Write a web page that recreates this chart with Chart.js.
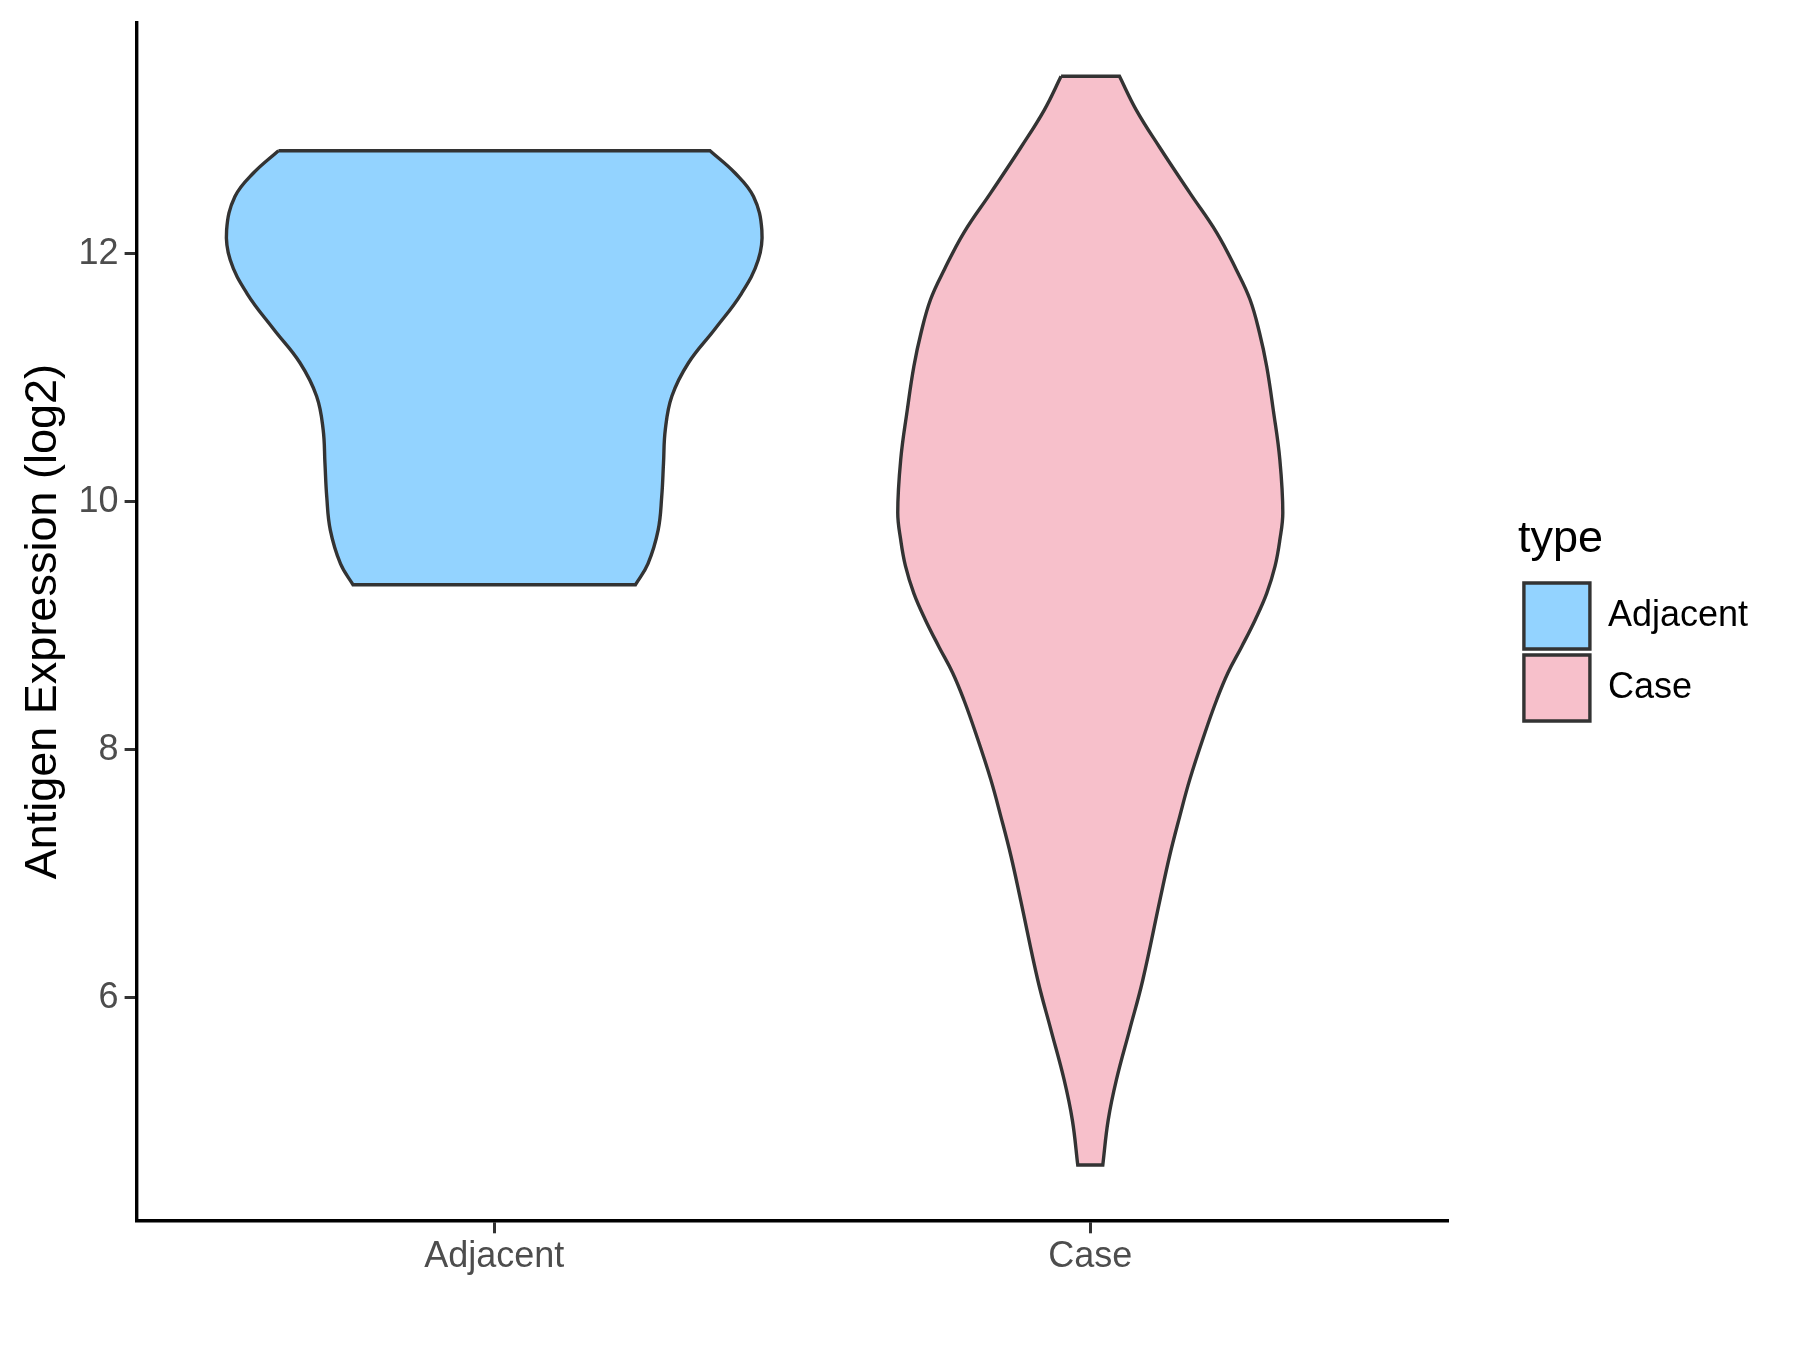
<!DOCTYPE html>
<html>
<head>
<meta charset="utf-8">
<script src="https://cdn.jsdelivr.net/npm/chart.js@4/dist/chart.umd.min.js"></script>
<style>
    html, body { margin: 0; padding: 0; background: #ffffff; }
    #wrap { width: 1800px; height: 1350px; }
</style>
</head>
<body>
<div id="wrap"><canvas id="violinChart"></canvas></div>
<script>
const categories = ['Adjacent', 'Case'];
const yTicks = [6, 8, 10, 12];

// violin outlines: expression level and half width (x units)
const adjacentLevels = [12.83, 12.65, 12.46, 12.19, 11.95, 11.68, 11.39, 11.12, 10.85, 10.58, 10.31, 10.04, 9.77, 9.50, 9.33];
const adjacentHalfWidths = [0.362, 0.404, 0.435, 0.449, 0.443, 0.415, 0.370, 0.326, 0.298, 0.287, 0.284, 0.281, 0.275, 0.258, 0.237];

const caseLevels = [13.43, 13.16, 12.86, 12.49, 12.17, 11.87, 11.63, 11.36, 11.09, 10.74, 10.34, 9.91, 9.69, 9.48, 9.26, 9.05, 8.83, 8.62, 8.40, 8.13, 7.76, 7.46, 7.14, 6.79, 6.14, 5.74, 5.34, 5.01, 4.65];
const caseHalfWidths = [0.049, 0.077, 0.116, 0.167, 0.212, 0.245, 0.268, 0.284, 0.296, 0.307, 0.318, 0.323, 0.318, 0.310, 0.296, 0.277, 0.254, 0.231, 0.212, 0.192, 0.167, 0.150, 0.133, 0.117, 0.088, 0.066, 0.044, 0.030, 0.021];

const fillColors = ['#93D3FF', '#F7C0CB'];
const outlineColor = '#333333';

Chart.defaults.font.family = '"Liberation Sans", Arial, sans-serif';

// closed outline: down the left side, across the bottom, up the right side, across the top.
// corner points are repeated so the flat ends stay sharp with tension on
function outline(center, levels, halfWidths) {
    const left = levels.map((y, i) => ({ x: center - halfWidths[i], y: y }));
    const right = levels.map((y, i) => ({ x: center + halfWidths[i], y: y })).reverse();
    const lastLeft = left[left.length - 1];
    const firstRight = right[0];
    const lastRight = right[right.length - 1];
    return [...left, lastLeft, firstRight, ...right, lastRight, left[0]];
}

const ctx = document.getElementById('violinChart').getContext('2d');
new Chart(ctx, {
    type: 'line',
    data: {
        datasets: [
            {
                label: categories[0],
                data: outline(1, adjacentLevels, adjacentHalfWidths),
                backgroundColor: fillColors[0],
                borderColor: outlineColor,
                borderWidth: 3.4,
                fill: 'shape',
                tension: 0.4,
                pointRadius: 0
            },
            {
                label: categories[1],
                data: outline(2, caseLevels, caseHalfWidths),
                backgroundColor: fillColors[1],
                borderColor: outlineColor,
                borderWidth: 3.4,
                fill: 'shape',
                tension: 0.4,
                pointRadius: 0
            }
        ]
    },
    options: {
        responsive: true,
        maintainAspectRatio: false,
        animation: false,
        layout: { padding: { top: 23, right: 42, bottom: 0, left: 0 } },
        scales: {
            x: {
                type: 'linear',
                min: 0.4,
                max: 2.6,
                afterBuildTicks: s => { s.ticks = categories.map((c, i) => ({ value: i + 1 })); },
                afterFit: s => { s.height = 129.7; },
                ticks: {
                    callback: v => categories[v - 1],
                    font: { size: 36 },
                    color: '#4D4D4D',
                    padding: 2
                },
                grid: { drawOnChartArea: false, drawTicks: true, tickLength: 13, color: outlineColor, lineWidth: 3 },
                border: { display: true, color: '#000000', width: 3.4 }
            },
            y: {
                type: 'linear',
                min: 4.204,
                max: 13.86,
                afterBuildTicks: s => { s.ticks = yTicks.map(v => ({ value: v })); },
                afterFit: s => {
                    s.width = 136.6;
                    // no tick label sits near the ends, so no extra room is needed there
                    s.paddingTop = 0;
                    s.paddingBottom = 0;
                },
                ticks: { font: { size: 36 }, color: '#4D4D4D', padding: 6 },
                grid: { drawOnChartArea: false, drawTicks: true, tickLength: 12, color: outlineColor, lineWidth: 3 },
                border: { display: true, color: '#000000', width: 3.4 },
                title: {
                    display: true,
                    text: 'Antigen Expression (log2)',
                    font: { size: 45 },
                    color: '#000000',
                    padding: { top: 17, bottom: 0 }
                }
            },
            // empty axis only to keep the gap between panel and legend
            gap: {
                type: 'linear',
                position: 'right',
                display: true,
                afterFit: s => {
                    s.width = 70;
                    s.paddingTop = 0;
                    s.paddingBottom = 0;
                },
                grid: { display: false },
                ticks: { display: false },
                border: { display: false }
            }
        },
        plugins: {
            tooltip: { enabled: false },
            legend: {
                position: 'right',
                align: 'start',
                title: {
                    display: true,
                    text: 'type',
                    position: 'start',
                    font: { size: 45 },
                    color: '#000000',
                    padding: { top: 494.5, bottom: 5.5 }
                },
                labels: {
                    boxWidth: 66,
                    boxHeight: 66,
                    padding: 6,
                    font: { size: 36 },
                    color: '#000000'
                }
            }
        }
    }
});
</script>
</body>
</html>
